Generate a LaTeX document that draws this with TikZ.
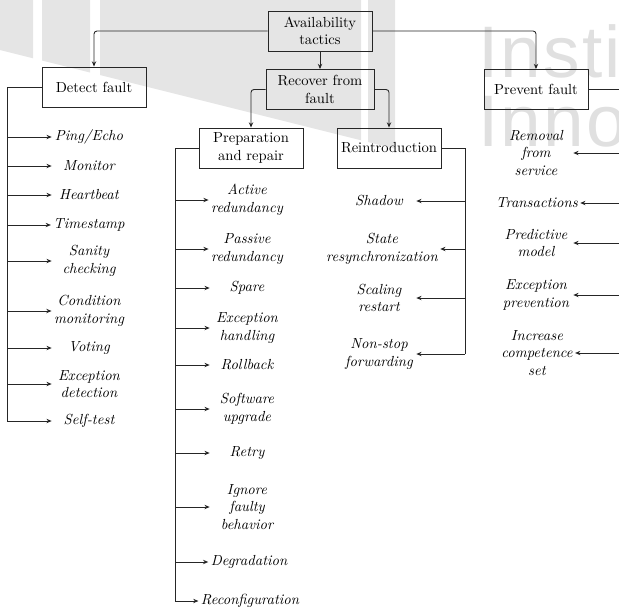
\documentclass[tikz,border=0pt]{standalone}
\usepackage{fontspec}
\newfontfamily\markfont[LetterSpace=3]{Liberation Sans}
\usetikzlibrary{arrows.meta}
\begin{document}
\begin{tikzpicture}[x=0.685pt,y=-0.685pt,
  line/.style={draw=black!85, line width=0.6pt},
  arr/.style={line, -{Stealth[length=3.6pt,width=3pt]}},
  turn/.style={rounded corners=2pt},
  box/.style={draw=black!85, line width=0.6pt, align=center,
    minimum width=71.2pt, minimum height=27.4pt, inner sep=2pt},
  leaf/.style={font=\itshape, align=center, minimum width=50.7pt, inner sep=1.5pt},
  markbar/.style={fill=black!10},
  marktext/.style={anchor=base west, inner sep=0pt, text=black!12,
    font=\markfont\fontsize{50}{60}\selectfont},
]
\useasboundingbox (0,0) rectangle (619,607);
\clip (0,0) rectangle (619,607);

% background logo
\foreach \a/\b in {0/33,42/90,100/361,368/395}
  \fill[markbar] (\a,0) -- (\b,0) -- (\b,{50+0.25*\b}) -- (\a,{50+0.25*\a}) -- cycle;
\node[marktext] (mark1) at (478,77) {Insti};
\node[marktext] (mark2) at (478,146) {Innov};

% main tactic boxes
\node[box] (avail) at (320,31) {Availability\\tactics};
\node[box, minimum width=74pt] (recover) at (320,89.5) {Recover from\\fault};
\node[box] (detect) at (94,87) {Detect fault};
\node[box] (prevent) at (536,89.5) {Prevent fault};
\node[box] (prep) at (251,148) {Preparation\\and repair};
\node[box] (reint) at (389,148) {Reintroduction};

\draw[arr,turn] (avail.west) -| (detect.north);
\draw[arr,turn] (avail.east) -| (prevent.north);
\draw[arr] (avail.south) -- (recover.north);
\draw[arr,turn] (recover.west) -| (prep.north);
\draw[arr,turn] (recover.east) -| (reint.north);

% detect fault
\node[leaf] (ping) at (89,137) {Ping/Echo};
\node[leaf] (monitor) at (89,166) {Monitor};
\node[leaf] (heart) at (89,195) {Heartbeat};
\node[leaf] (stamp) at (89,225) {Timestamp};
\node[leaf] (sanity) at (89,261) {Sanity\\checking};
\node[leaf] (cond) at (89,311) {Condition\\monitoring};
\node[leaf] (voting) at (89,348) {Voting};
\node[leaf] (excdet) at (89,384) {Exception\\detection};
\node[leaf] (selftest) at (89,421) {Self-test};
\coordinate (dspine) at (7,87);
\draw[line] (detect.west) -- (dspine) -- (dspine |- selftest.west);
\foreach \n in {ping,monitor,heart,stamp,sanity,cond,voting,excdet,selftest}
  \draw[arr] (dspine |- \n.west) -- (\n.west);

% preparation and repair
\node[leaf] (active) at (247,200) {Active\\redundancy};
\node[leaf] (passive) at (247,249) {Passive\\redundancy};
\node[leaf] (spare) at (247,288) {Spare};
\node[leaf] (exchand) at (247,328) {Exception\\handling};
\node[leaf] (rollback) at (247,365) {Rollback};
\node[leaf] (upgrade) at (247,409) {Software\\upgrade};
\node[leaf] (retry) at (247,453) {Retry};
\node[leaf] (ignore) at (247,507) {Ignore\\faulty\\behavior};
\node[leaf] (degrade) at (249,562) {Degradation};
\node[leaf] (reconf) at (250,601) {Reconfiguration};
\coordinate (pspine) at (175,148);
\draw[line] (prep.west) -- (pspine) -- (pspine |- reconf.west);
\foreach \n in {active,passive,spare,exchand,rollback,upgrade,retry,ignore,degrade,reconf}
  \draw[arr] (pspine |- \n.west) -- (\n.west);

% reintroduction
\node[leaf] (shadow) at (379,201) {Shadow};
\node[leaf] (resync) at (382,249) {State\\resynchronization};
\node[leaf] (scaling) at (379,298) {Scaling\\restart};
\node[leaf] (nonstop) at (379,354) {Non-stop\\forwarding};
\coordinate (rspine) at (465,148);
\draw[line] (reint.east) -- (rspine) -- (rspine |- nonstop.east);
\foreach \n in {shadow,resync,scaling,nonstop}
  \draw[arr] (rspine |- \n.east) -- (\n.east);

% prevent fault
\node[leaf] (removal) at (536,153) {Removal\\from\\service};
\node[leaf] (trans) at (537,203) {Transactions};
\node[leaf] (predict) at (536,243) {Predictive\\model};
\node[leaf] (excprev) at (536,295) {Exception\\prevention};
\node[leaf] (compet) at (537,353) {Increase\\competence\\set};
\coordinate (vspine) at (626,89.5);
\draw[line] (prevent.east) -- (vspine) -- (vspine |- compet.east);
\foreach \n in {removal,trans,predict,excprev,compet}
  \draw[arr] (vspine |- \n.east) -- (\n.east);
\end{tikzpicture}
\end{document}
